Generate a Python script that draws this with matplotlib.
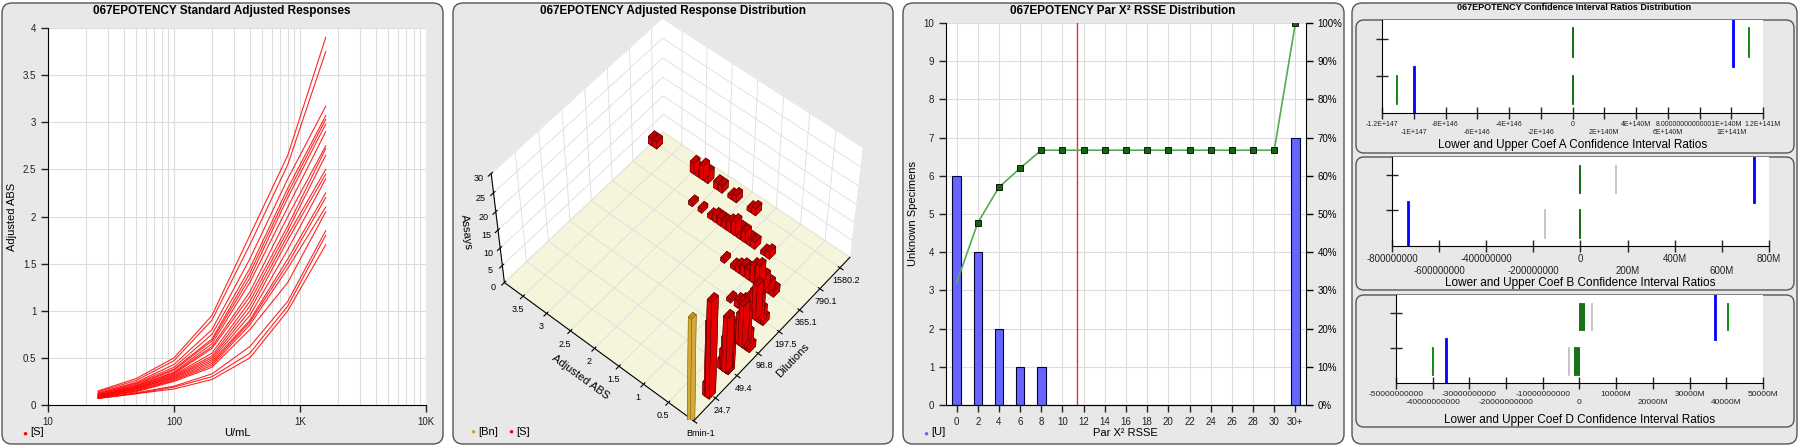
import numpy as np
import matplotlib
matplotlib.use("Agg")
import matplotlib.pyplot as plt
from matplotlib.patches import FancyBboxPatch
from matplotlib.ticker import NullFormatter

plt.rcParams['font.family'] = ['Liberation Sans', 'DejaVu Sans']

W, H = 1799, 448

# ---- Panel 1 data: standard adjusted responses ----------------------
conc = [25, 50, 100, 200, 400, 800, 1600]
std_curves = [
    [.15, .28, .50, .95, 1.80, 2.65, 3.90],
    [.14, .26, .47, .90, 1.70, 2.55, 3.75],
    [.13, .24, .43, .80, 1.55, 2.40, 3.17],
    [.12, .23, .40, .75, 1.45, 2.30, 3.07],
    [.12, .22, .38, .70, 1.40, 2.25, 3.03],
    [.11, .21, .37, .68, 1.35, 2.20, 2.98],
    [.11, .20, .35, .65, 1.30, 2.10, 2.90],
    [.10, .20, .34, .62, 1.20, 2.00, 2.75],
    [.10, .19, .33, .60, 1.15, 1.90, 2.72],
    [.10, .18, .32, .55, 1.10, 1.85, 2.65],
    [.09, .18, .31, .52, 1.05, 1.80, 2.50],
    [.09, .17, .30, .50, 1.00, 1.75, 2.45],
    [.09, .17, .29, .48, 0.95, 1.65, 2.40],
    [.08, .16, .28, .46, 0.90, 1.55, 2.25],
    [.08, .15, .27, .44, 0.88, 1.50, 2.20],
    [.08, .15, .26, .42, 0.85, 1.45, 2.10],
    [.08, .14, .25, .40, 0.80, 1.30, 2.05],
    [.07, .13, .20, .33, 0.62, 1.10, 1.85],
    [.07, .12, .19, .30, 0.55, 1.05, 1.80],
    [.07, .12, .17, .27, 0.50, 1.00, 1.70],
]

# ---- Panel 2 data: 3D response distribution -------------------------
dilution_labels = ['Bmin-1', '24.7', '49.4', '98.8', '197.5', '365.1', '790.1', '1580.2']
dist_abs = {
    7: [3.8, 3.9, 3.0, 2.9, 2.8, 2.7, 2.5, 2.4, 2.2, 2.1, 1.8, 1.7],
    6: [2.6, 2.4, 2.2, 2.1, 2.0, 1.9, 1.8, 1.7, 1.6, 1.5, 1.4, 1.3, 1.1, 1.0],
    5: [1.5, 1.3, 1.2, 1.1, 1.0, 0.9, 0.8, 0.7, 0.6, 0.5],
    4: [0.95, 0.8, 0.7, 0.6, 0.5, 0.45, 0.4, 0.35, 0.3],
    3: [0.5, 0.45, 0.4, 0.35, 0.3, 0.25, 0.2, 0.15],
    2: [0.28, 0.25, 0.22, 0.2, 0.18, 0.15],
    1: [0.15, 0.12, 0.10],
}
dist_cnt = {
    7: [2, 2, 3, 2, 4, 3, 2, 2, 1, 2, 1, 2],
    6: [1, 1, 1, 2, 2, 2, 3, 4, 3, 3, 2, 2, 1, 2],
    5: [1, 1, 2, 3, 3, 5, 6, 4, 3, 2],
    4: [1, 2, 3, 5, 8, 10, 7, 4, 2],
    3: [2, 3, 6, 9, 12, 10, 5, 2],
    2: [3, 6, 10, 16, 15, 8],
    1: [4, 22, 28],
}
blank_abs, blank_cnt = 0.05, 30

# ---- Panel 3 data: Par X2 RSSE distribution -------------------------
rsse_bins = [0, 2, 4, 6, 8, 32]
rsse_counts = [6, 4, 2, 1, 1, 7]
cum_x = [0, 2, 4, 6, 8, 10, 12, 14, 16, 18, 20, 22, 24, 26, 28, 30, 32]
cum_pct = [32, 47.7, 57, 62, 66.7, 66.7, 66.7, 66.7, 66.7, 66.7, 66.7, 66.7,
           66.7, 66.7, 66.7, 66.7, 100]
rsse_limit = 11.4
rsse_ticks = list(range(0, 31, 2)) + [32]
rsse_ticklabels = [str(v) for v in range(0, 31, 2)] + ['30+']

# ---- Panel 4 data: confidence interval ratios -----------------------
a_ticklabels = ['-1.2E+147', '-1E+147', '-8E+146', '-6E+146', '-4E+146', '-2E+146', '0',
                '2E+140M', '4E+140M', '6E+140M', '8.00000000000001E+140M', '1E+141M', '1.2E+141M']
a_segs = [(-5.53, 0.10, 0.40, 'green'), (-5.0, 0.0, 0.49, 'blue'),
          (0, 0.60, 0.91, 'darkgreen'), (0, 0.10, 0.40, 'darkgreen'),
          (5.04, 0.5, 1.0, 'blue'), (5.55, 0.60, 0.91, 'green')]
b_ticklabels = ['-800000000', '-600000000', '-400000000', '-200000000', '0',
                '200M', '400M', '600M', '800M']
b_segs = [(-732e6, 0.0, 0.5, 'blue'), (-151e6, 0.09, 0.40, 'silver'),
          (0, 0.09, 0.40, 'darkgreen'), (0, 0.60, 0.90, 'darkgreen'),
          (151e6, 0.60, 0.90, 'silver'), (736e6, 0.5, 1.0, 'blue')]
d_ticklabels = ['-50000000000', '-40000000000', '-30000000000', '-20000000000',
                '-10000000000', '0', '10000M', '20000M', '30000M', '40000M', '50000M']
d_segs = [(-39.9e9, 0.09, 0.40, 'green'), (-36.4e9, 0.0, 0.5, 'blue'),
          (-2.86e9, 0.09, 0.40, 'silver'), (-1.2e9, 0.09, 0.40, 'darkgreen'),
          (-0.8e9, 0.09, 0.40, 'darkgreen'), (-0.1e9, 0.09, 0.40, 'darkgreen'),
          (0.1e9, 0.60, 0.90, 'darkgreen'), (0.6e9, 0.60, 0.90, 'darkgreen'),
          (1.2e9, 0.60, 0.90, 'darkgreen'), (3.4e9, 0.60, 0.90, 'silver'),
          (36.9e9, 0.5, 1.0, 'blue'), (40.5e9, 0.60, 0.90, 'green')]


def box(x0, y0, x1, y1):
    """pixel box (top-left origin) -> figure rect"""
    return [x0 / W, 1 - y1 / H, (x1 - x0) / W, (y1 - y0) / H]


def panel(fig, x0, y0, x1, y1, pad=10):
    r = box(x0, y0, x1, y1)
    p = FancyBboxPatch((r[0], r[1]), r[2], r[3], boxstyle=f"round,pad=0,rounding_size={pad / W}",
                       transform=fig.transFigure, facecolor='#e8e8e8', edgecolor='#555555', lw=1.0,
                       zorder=-10, mutation_aspect=W / H)
    fig.patches.append(p)


def ftext(fig, x, y, s, **kw):
    fig.text(x / W, 1 - y / H, s, **kw)


def style_axes(ax):
    for s in ['top', 'right']:
        ax.spines[s].set_visible(False)
    ax.tick_params(labelsize=7, length=5, width=1, colors='#222222')


fig = plt.figure(figsize=(W / 100, H / 100), dpi=100)

# ---- Panel 1 ----
panel(fig, 2, 3, 443, 444)
ftext(fig, 222, 11, '067EPOTENCY Standard Adjusted Responses', ha='center', va='center',
      fontsize=8.5, fontweight='bold')
ax1 = fig.add_axes(box(48, 28, 426, 405))
for c in std_curves:
    ax1.plot(conc, c, color='red', lw=0.8, alpha=0.85)
ax1.set_xscale('log')
ax1.set_xlim(10, 10000)
ax1.set_ylim(0, 4)
ax1.set_xticks([10, 100, 1000, 10000])
ax1.set_xticklabels(['10', '100', '1K', '10K'])
ax1.xaxis.set_minor_formatter(NullFormatter())
ax1.set_yticks(np.arange(0, 4.01, 0.5))
ax1.set_yticklabels(['0', '0.5', '1', '1.5', '2', '2.5', '3', '3.5', '4'])
ax1.grid(True, which='both', color='#dddddd', lw=0.8)
ax1.set_axisbelow(True)
style_axes(ax1)
ax1.tick_params(which='minor', length=0)
ax1.set_ylabel('Adjusted ABS', fontsize=8)
ftext(fig, 237, 433, 'U/mL', ha='center', va='center', fontsize=8)
ftext(fig, 25, 434, '●', color='red', ha='center', va='center', fontsize=6)
ftext(fig, 30, 432, '[S]', ha='left', va='center', fontsize=8)

# ---- Panel 2 ----
panel(fig, 453, 3, 893, 444)
ftext(fig, 673, 11, '067EPOTENCY Adjusted Response Distribution', ha='center', va='center',
      fontsize=8.5, fontweight='bold')
ax2 = fig.add_axes(box(455, 25, 890, 420), projection='3d')
ax2.set_facecolor('#e8e8e8')
for d in dist_abs:
    for a, n in zip(dist_abs[d], dist_cnt[d]):
        ax2.bar3d(d - 0.15, a - 0.04, 0, 0.3, 0.08, n, color='red', edgecolor='#550000',
                  linewidth=0.3, shade=True)
ax2.bar3d(0 - 0.1, blank_abs - 0.03, 0, 0.2, 0.06, blank_cnt, color='#f0c040',
          edgecolor='#886600', linewidth=0.3, shade=True)
ax2.set_xlim(0, 7.5)
ax2.set_ylim(0, 3.9)
ax2.set_zlim(0, 30)
ax2.set_xticks(range(8))
ax2.set_xticklabels(dilution_labels, fontsize=6.5)
ax2.set_yticks([0.5, 1, 1.5, 2, 2.5, 3, 3.5])
ax2.set_yticklabels(['0.5', '1', '1.5', '2', '2.5', '3', '3.5'], fontsize=6.5)
ax2.set_zticks([0, 5, 10, 15, 20, 25, 30])
ax2.set_zticklabels(['0', '5', '10', '15', '20', '25', '30'], fontsize=6.5)
ax2.set_xlabel('Dilutions', fontsize=8, labelpad=-6)
ax2.set_ylabel('Adjusted ABS', fontsize=8, labelpad=-6)
ax2.set_zlabel('Assays', fontsize=8, labelpad=-8)
ax2.tick_params(pad=-3)
ax2.xaxis.set_pane_color((1, 1, 1, 1))
ax2.yaxis.set_pane_color((1, 1, 1, 1))
ax2.zaxis.set_pane_color((0.96, 0.96, 0.86, 1))
for axis in (ax2.xaxis, ax2.yaxis, ax2.zaxis):
    axis._axinfo['grid']['color'] = '#dddddd'
    axis._axinfo['grid']['linewidth'] = 0.6
ax2.view_init(elev=55, azim=-140)
ftext(fig, 473, 432, '●', color='#d4a017', ha='center', va='center', fontsize=6)
ftext(fig, 478, 432, '[Bn]', ha='left', va='center', fontsize=8)
ftext(fig, 511, 432, '●', color='red', ha='center', va='center', fontsize=6)
ftext(fig, 516, 432, '[S]', ha='left', va='center', fontsize=8)

# ---- Panel 3 ----
panel(fig, 903, 3, 1344, 444)
ftext(fig, 1123, 11, '067EPOTENCY Par X² RSSE Distribution', ha='center', va='center',
      fontsize=8.5, fontweight='bold')
ax3 = fig.add_axes(box(946, 23, 1306, 405))
ax3.bar(rsse_bins, rsse_counts, width=0.8, color='#6666ff', edgecolor='#000033', lw=0.8, zorder=3)
ax3.axvline(rsse_limit, color='#e03030', lw=1, zorder=2)
ax3.set_xlim(-1, 33)
ax3.set_ylim(0, 10)
ax3.set_xticks(rsse_ticks)
ax3.set_xticklabels(rsse_ticklabels)
ax3.set_yticks(range(11))
ax3.grid(True, color='#dddddd', lw=0.8)
ax3.set_axisbelow(True)
style_axes(ax3)
ax3.set_ylabel('Unknown Specimens', fontsize=8)
ax3b = ax3.twinx()
ax3b.plot(cum_x, cum_pct, color='#55aa55', lw=1.2, zorder=4)
ax3b.plot(cum_x[1:], cum_pct[1:], 's', color='#116611', mec='black', mew=0.6, ms=4, zorder=5)
ax3b.set_ylim(0, 100)
ax3b.set_yticks(range(0, 101, 10))
ax3b.set_yticklabels([f'{v}%' for v in range(0, 101, 10)])
ax3b.spines['top'].set_visible(False)
ax3b.spines['left'].set_visible(False)
ax3b.tick_params(labelsize=7, length=5, width=1)
ftext(fig, 1125, 433, 'Par X² RSSE', ha='center', va='center', fontsize=8)
ftext(fig, 926, 434, '●', color='#6666ff', ha='center', va='center', fontsize=6)
ftext(fig, 931, 432, '[U]', ha='left', va='center', fontsize=8)

# ---- Panel 4 ----
panel(fig, 1352, 3, 1797, 444)
ftext(fig, 1574, 7, '067EPOTENCY Confidence Interval Ratios Distribution', ha='center',
      va='center', fontsize=6.5, fontweight='bold')


def ci_panel(bx, ax_rect, ticks, labels, segs, xlim, title, ty, lsize):
    panel(fig, *bx, pad=8)
    ax = fig.add_axes(box(*ax_rect))
    for x, y0, y1, col in segs:
        lw = 2 if col == 'blue' else 1.3
        ax.plot([x, x], [y0, y1], color=col, lw=lw)
    ax.set_xlim(*xlim)
    ax.set_ylim(0, 1)
    ax.set_xticks(ticks)
    ax.set_xticklabels([s if i % 2 == 0 else '\n' + s for i, s in enumerate(labels)])
    ax.set_yticks([0.4, 0.8])
    ax.set_yticklabels([])
    style_axes(ax)
    ax.tick_params(axis='x', labelsize=lsize, direction='inout', length=8, pad=2)
    ax.tick_params(axis='y', direction='inout', length=8)
    ftext(fig, (ax_rect[0] + ax_rect[2]) / 2, ty, title, ha='center', va='center', fontsize=8.5)


a_ticks = list(range(-6, 7))
ci_panel((1356, 20, 1794, 153), (1382, 20, 1763, 113), a_ticks, a_ticklabels, a_segs,
         (-6, 6), 'Lower and Upper Coef A Confidence Interval Ratios', 145, 5)
b_ticks = [v * 1e6 for v in range(-800, 801, 200)]
ci_panel((1356, 157, 1794, 290), (1392, 157, 1769, 246), b_ticks, b_ticklabels, b_segs,
         (-800e6, 800e6), 'Lower and Upper Coef B Confidence Interval Ratios', 283, 7)
d_ticks = [v * 1e9 for v in range(-50, 51, 10)]
ci_panel((1356, 295, 1794, 427), (1396, 295, 1763, 383), d_ticks, d_ticklabels, d_segs,
         (-50e9, 50e9), 'Lower and Upper Coef D Confidence Interval Ratios', 420, 6)

fig.savefig('out.png', dpi=100)
